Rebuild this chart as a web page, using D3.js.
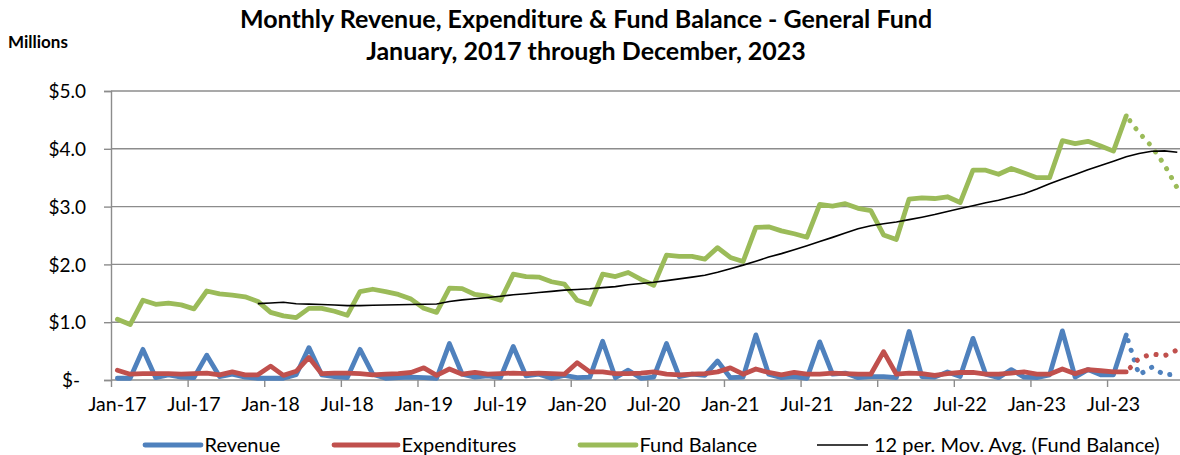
<!DOCTYPE html>
<html><head><meta charset="utf-8">
<script src="https://cdn.jsdelivr.net/npm/d3@7"></script>
<style>
html,body{margin:0;padding:0;background:#fff;overflow:hidden}
text{font-family:Lato,"Open Sans",sans-serif;fill:#000}
</style></head>
<body><svg id="c" width="1180" height="455"></svg>
<script>
const years=[17,18,19,20,21,22,23];
const monthNames=["Jan","Feb","Mar","Apr","May","Jun","Jul","Aug","Sep","Oct","Nov","Dec"];
const categories=[];years.forEach(y=>monthNames.forEach(m=>categories.push(m+"-"+y)));
const tickLabels=["Jan-17","Jul-17","Jan-18","Jul-18","Jan-19","Jul-19","Jan-20","Jul-20","Jan-21","Jul-21","Jan-22","Jul-22","Jan-23","Jul-23"];
const yTicks=[0,1,2,3,4,5];
const revenue=[0.03,0.03,0.53,0.04,0.09,0.05,0.04,0.43,0.06,0.10,0.05,0.03,
0.03,0.03,0.09,0.56,0.09,0.06,0.04,0.53,0.10,0.03,0.04,0.05,
0.04,0.03,0.63,0.10,0.05,0.07,0.04,0.58,0.07,0.10,0.03,0.08,
0.04,0.05,0.67,0.04,0.17,0.03,0.05,0.63,0.06,0.10,0.08,0.33,
0.04,0.05,0.78,0.10,0.04,0.06,0.03,0.66,0.10,0.12,0.04,0.06,
0.06,0.04,0.84,0.06,0.05,0.14,0.06,0.72,0.10,0.04,0.18,0.05,
0.04,0.09,0.85,0.05,0.18,0.09,0.09,0.78,0.09,0.22,0.09,0.10];
const expenditures=[0.17,0.10,0.11,0.11,0.11,0.10,0.11,0.12,0.09,0.14,0.09,0.09,
0.24,0.08,0.15,0.39,0.11,0.12,0.12,0.11,0.09,0.10,0.11,0.13,
0.21,0.08,0.19,0.10,0.13,0.10,0.11,0.12,0.11,0.12,0.11,0.10,
0.30,0.14,0.14,0.11,0.11,0.12,0.14,0.10,0.09,0.10,0.11,0.14,
0.21,0.10,0.19,0.13,0.09,0.13,0.10,0.10,0.12,0.11,0.10,0.10,
0.49,0.10,0.12,0.11,0.08,0.11,0.13,0.13,0.10,0.10,0.12,0.14,
0.10,0.10,0.19,0.11,0.18,0.16,0.14,0.14,0.37,0.45,0.42,0.52];
const fundBalance=[1.05,0.96,1.38,1.31,1.33,1.30,1.23,1.54,1.49,1.47,1.44,1.36,
1.17,1.11,1.08,1.24,1.24,1.19,1.12,1.53,1.57,1.53,1.48,1.40,
1.24,1.17,1.59,1.58,1.48,1.45,1.38,1.83,1.79,1.78,1.70,1.66,
1.38,1.31,1.83,1.79,1.86,1.74,1.64,2.16,2.14,2.14,2.09,2.29,
2.12,2.05,2.64,2.65,2.58,2.53,2.47,3.04,3.01,3.05,2.97,2.93,
2.51,2.43,3.13,3.15,3.14,3.17,3.07,3.63,3.63,3.56,3.66,3.58,
3.50,3.50,4.14,4.09,4.13,4.05,3.96,4.57,4.28,4.04,3.72,3.32];
const lastActual="Aug-23";
const seriesNames=["Revenue","Expenditures","Fund Balance","12 per. Mov. Avg. (Fund Balance)"];
const colors=["#4F81BD","#C0504D","#9BBB59","#000000"];

const svg=d3.select("#c");
const pLeft=111, bw=12.77, pTop=91, pBottom=380;
const x=d3.scaleBand().domain(categories).range([pLeft,pLeft+categories.length*bw]).padding(0);
const xi=d3.scaleLinear().domain([0,categories.length]).range([pLeft,pLeft+categories.length*bw]);
const y=d3.scaleLinear().domain([0,5]).range([pBottom,pTop]);
const cx=c=>x(c)+x.bandwidth()/2;

// gridlines
svg.append("g").selectAll("line").data(yTicks.filter(v=>v>0)).join("line")
 .attr("x1",pLeft).attr("x2",1180).attr("y1",d=>y(d)).attr("y2",d=>y(d))
 .attr("stroke","#8c8c8c").attr("stroke-width",1.4);

// y axis
const ya=svg.append("g").attr("transform",`translate(${pLeft},0)`)
 .call(d3.axisLeft(y).tickValues(yTicks).tickSize(7).tickPadding(18).tickFormat(d=>d===0?"$-":"$"+d.toFixed(1)));
ya.select(".domain").attr("stroke","#8c8c8c").attr("stroke-width",1.4);
ya.selectAll(".tick line").attr("stroke","#8c8c8c").attr("stroke-width",1.4);
ya.selectAll(".tick text").style("font-size","19px").attr("dy","0.35em")
 .attr("x",d=>d===0?-31:-25);

// x axis: tick marks at boundaries, labels centred
const xa=svg.append("g").attr("transform",`translate(0,${pBottom})`)
 .call(d3.axisBottom(xi).tickValues(d3.range(0,categories.length,6)).tickSize(7).tickFormat(""));
xa.select(".domain").remove();
svg.append("line").attr("x1",pLeft).attr("x2",1180).attr("y1",pBottom).attr("y2",pBottom).attr("stroke","#8c8c8c").attr("stroke-width",1.4);
xa.selectAll(".tick line").attr("stroke","#8c8c8c").attr("stroke-width",1.4);
svg.append("g").selectAll("text").data(tickLabels).join("text")
 .attr("x",d=>cx(d)).attr("y",411).attr("text-anchor","middle").style("font-size","19.5px").text(d=>d);

// lines
const cut=categories.indexOf(lastActual);
const line=d3.line().x(d=>cx(d.c)).y(d=>y(d.v));
function drawSeries(vals,color){
 const pts=vals.map((v,i)=>({c:categories[i],v}));
 svg.append("path").attr("d",line(pts.slice(0,cut+1))).attr("fill","none").attr("stroke",color)
  .attr("stroke-width",4.8).attr("stroke-linejoin","round").attr("stroke-linecap","round");
 svg.append("path").attr("d",line(pts.slice(cut))).attr("fill","none").attr("stroke",color)
  .attr("stroke-width",5).attr("stroke-linecap","round").attr("stroke-dasharray","0.1 10").attr("stroke-dashoffset",-6);
}
drawSeries(revenue,colors[0]);
drawSeries(expenditures,colors[1]);
drawSeries(fundBalance,colors[2]);
// 12-period moving average trendline of Fund Balance
const ma=fundBalance.map((v,i)=>i<11?null:{c:categories[i],v:d3.mean(fundBalance.slice(i-11,i+1))}).filter(d=>d);
svg.append("path").attr("d",line(ma)).attr("fill","none").attr("stroke","#000").attr("stroke-width",1.6);

// titles
svg.append("text").attr("x",586).attr("y",28).attr("text-anchor","middle").style("font-size","25px").style("font-weight","bold")
 .text("Monthly Revenue, Expenditure & Fund Balance - General Fund");
svg.append("text").attr("x",586).attr("y",60).attr("text-anchor","middle").style("font-size","25px").style("font-weight","bold")
 .text("January, 2017 through December, 2023");
svg.append("text").attr("x",8).attr("y",48).style("font-size","17px").style("font-weight","bold").text("Millions");

// legend
const legX=[145,334,580,817];
const legW=[56,64,56,51];
const lg=svg.append("g").selectAll("g").data(seriesNames).join("g").attr("transform",(d,i)=>`translate(${legX[i]},445)`);
lg.append("line").attr("x1",0).attr("x2",(d,i)=>legW[i]).attr("y1",0).attr("y2",0)
 .attr("stroke",(d,i)=>colors[i]).attr("stroke-width",(d,i)=>i===3?1.6:4.8).attr("stroke-linecap",(d,i)=>i===3?"butt":"round");
lg.append("text").attr("x",(d,i)=>legW[i]+(i===3?6:3.5)).attr("y",6.5).style("font-size","20px").text(d=>d);
</script></body></html>
